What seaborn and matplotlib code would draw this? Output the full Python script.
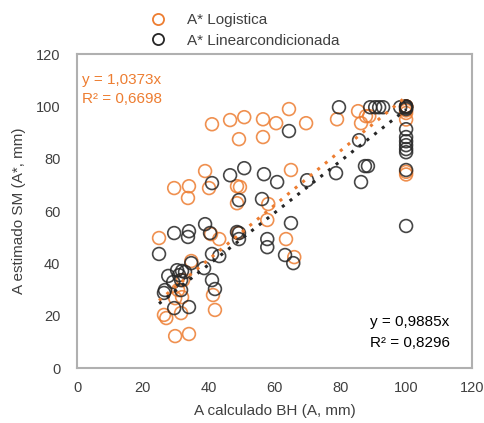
import numpy as np
import pandas as pd
import seaborn as sns
import matplotlib.pyplot as plt

# values
log_x = [41.0, 46.5, 50.8, 56.5, 60.5, 64.4, 69.6, 79.0, 85.4, 87.8, 88.8, 86.3,
         49.2, 56.5, 100, 100, 100, 100, 100, 100, 100, 100, 38.9, 29.5, 34.0,
         33.7, 40.1, 48.6, 49.5, 48.6, 65.0, 58.1, 57.8, 63.5, 66.0, 24.9, 34.7,
         40.7, 43.2, 48.9, 29.8, 31.9, 26.4, 27.1, 31.6, 41.3, 41.9, 29.8, 34.0,
         32.2, 30.7]
log_y = [93.2, 94.8, 95.9, 95.1, 93.6, 99.0, 93.6, 95.1, 98.2, 96.3, 96.3, 93.6,
         87.5, 88.3, 100, 100, 100, 98.5, 97.5, 95.0, 74.0, 75.0, 75.3, 68.8, 69.5,
         65.0, 68.8, 69.5, 69.2, 63.0, 75.7, 62.7, 56.6, 49.3, 42.4, 49.7, 40.9,
         51.2, 49.3, 51.6, 26.7, 27.1, 20.3, 19.1, 21.0, 27.9, 22.2, 12.2, 13.0,
         33.6, 29.8]

lin_x = [41.0, 46.5, 50.8, 56.8, 60.8, 49.2, 56.2, 65.0, 79.6, 89.1, 90.6, 91.8,
         93.0, 98.2, 100, 100, 100, 100, 100, 100, 100, 100, 100, 100, 100, 100,
         64.4, 85.7, 69.9, 78.7, 86.3, 87.5, 88.4, 57.8, 57.8, 63.2, 65.7, 29.5,
         34.0, 33.7, 38.9, 40.4, 24.9, 41.0, 43.2, 48.6, 49.2, 49.2, 34.7, 38.6,
         30.4, 31.9, 32.8, 31.0, 27.7, 29.2, 31.6, 26.7, 26.4, 31.6, 41.0, 41.9,
         29.5, 34.0]
lin_y = [70.7, 73.7, 76.4, 74.1, 71.1, 64.2, 64.6, 55.4, 99.7, 99.7, 99.7, 99.7,
         99.7, 99.7, 100, 100, 99.5, 99.0, 91.3, 88.3, 86.7, 85.2, 83.7, 82.5, 75.7,
         54.3, 90.6, 87.1, 71.8, 74.5, 71.1, 77.2, 77.2, 49.3, 46.2, 43.2, 40.1,
         51.6, 52.3, 50.1, 55.0, 51.6, 43.6, 43.6, 42.8, 52.0, 51.6, 49.3, 40.1,
         38.2, 37.4, 37.1, 36.7, 35.5, 35.2, 32.9, 33.6, 29.8, 28.7, 29.8, 33.6,
         30.2, 22.9, 23.3]

series_names = ["A* Logistica", "A* Linearcondicionada"]
slopes = [1.0373, 0.9885]
r2_values = ["0,6698", "0,8296"]
colors = ["#ED7D31", "#262626"]

df = pd.DataFrame({
    "x": log_x + lin_x,
    "y": log_y + lin_y,
    "serie": [series_names[0]] * len(log_x) + [series_names[1]] * len(lin_x),
})

sns.set_style("white")
plt.rcParams["font.family"] = ["Liberation Sans", "DejaVu Sans"]

fig = plt.figure(figsize=(4.85, 4.23), dpi=100)
ax = fig.add_axes([0.159, 0.130, 0.814, 0.742])

sns.scatterplot(data=df, x="x", y="y", hue="serie", palette=colors,
                hue_order=series_names, ax=ax, s=85, linewidth=1.2, legend=False)
# seaborn fills markers; make them hollow
coll = ax.collections[0]
ec = [colors[0] if s == series_names[0] else colors[1] for s in df["serie"]]
coll.set_facecolor("none")
coll.set_edgecolor(ec)
coll.set_alpha(0.85)

# dotted linear trendlines through the origin
for xs, k, c in [(log_x, slopes[0], colors[0]), (lin_x, slopes[1], colors[1])]:
    xx = np.array([min(xs), max(xs)])
    ax.plot(xx, k * xx, linestyle=(0, (1, 2.2)), color=c, linewidth=2.2)

ax.text(1.5, 108.5, "y = 1,0373x", color=colors[0], fontsize=11)
ax.text(1.5, 101.5, "R² = " + r2_values[0], color=colors[0], fontsize=11)
ax.text(89, 16, "y = 0,9885x", color="black", fontsize=11)
ax.text(89, 8, "R² = " + r2_values[1], color="black", fontsize=11)

ax.set_xlim(0, 120)
ax.set_ylim(0, 120)
ax.set_xticks(range(0, 121, 20))
ax.set_yticks(range(0, 121, 20))
ax.tick_params(axis="y", length=0, labelsize=10.5, labelcolor="#404040", pad=12)
ax.tick_params(axis="x", length=0, labelsize=10.5, labelcolor="#404040", pad=9)
ax.set_xlabel("A calculado BH (A, mm)", fontsize=11, color="#404040", labelpad=7)
ax.set_ylabel("A estimado SM (A*, mm)", fontsize=11, color="#404040", labelpad=7)
for sp in ax.spines.values():
    sp.set_color("#b0b0b0")
    sp.set_linewidth(1.5)

# legend above the plot
handles = [plt.Line2D([], [], marker="o", linestyle="none", markersize=8,
                      markerfacecolor="none", markeredgecolor=c, markeredgewidth=1.3)
           for c in colors]
fig.legend(handles, series_names, loc="upper left", bbox_to_anchor=(0.275, 0.99),
           frameon=False, fontsize=11, labelcolor="#404040", handletextpad=0.9,
           labelspacing=0.4, borderaxespad=0.2)

fig.savefig("out.png", dpi=100)
